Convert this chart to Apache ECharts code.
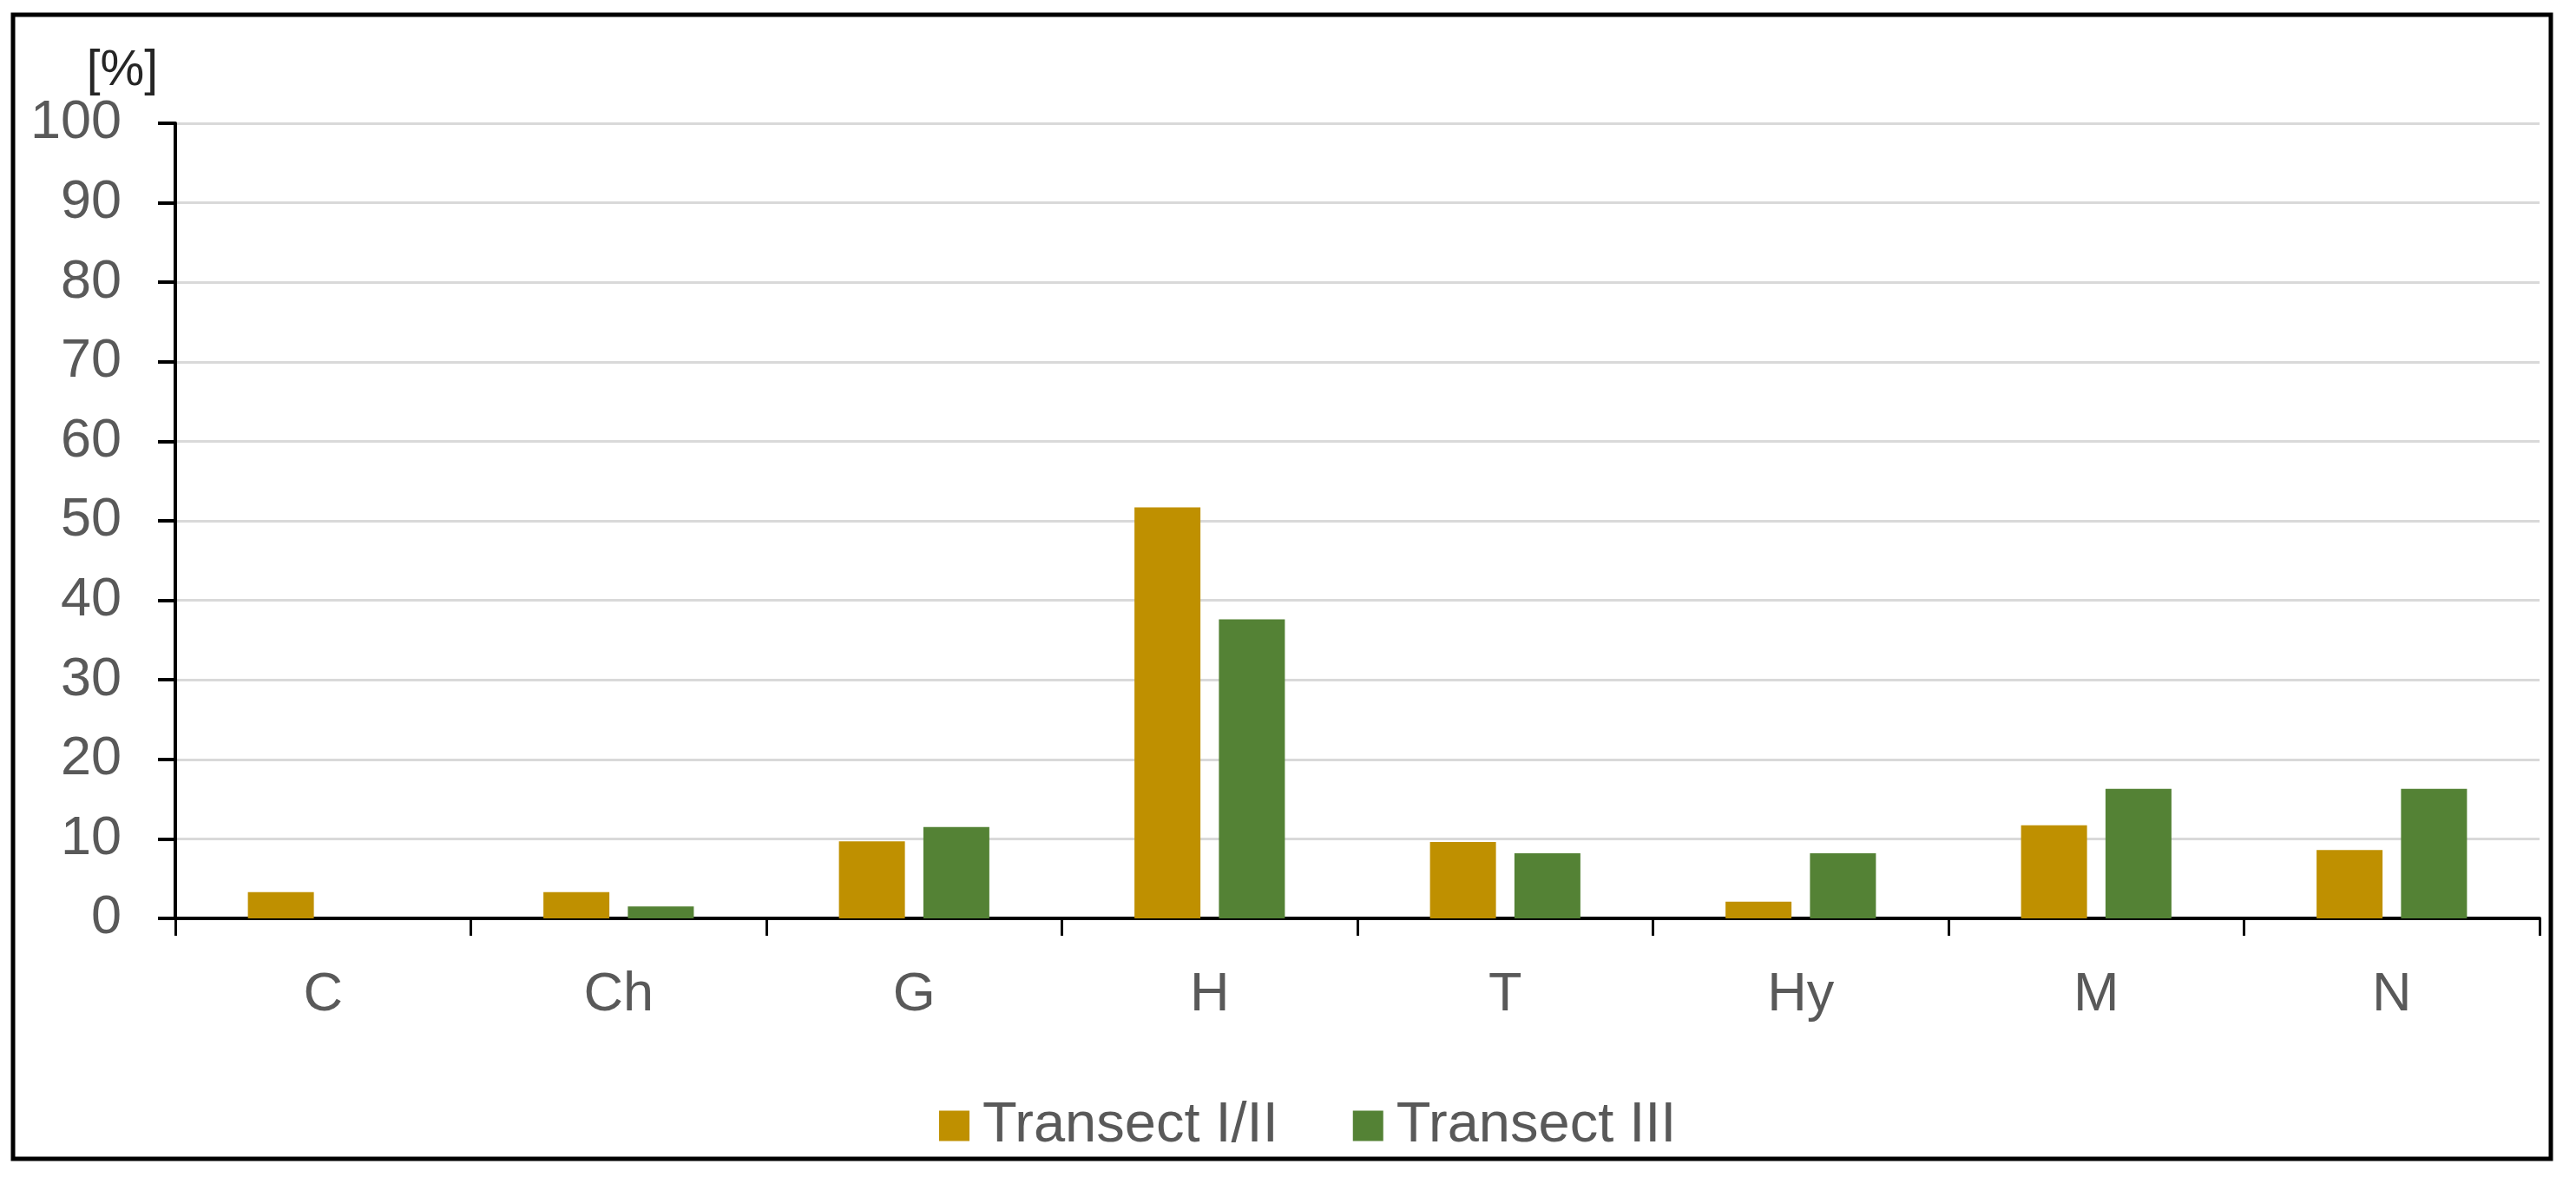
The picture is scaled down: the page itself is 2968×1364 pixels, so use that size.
<!DOCTYPE html>
<html>
<head>
<meta charset="utf-8">
<title>Transect chart</title>
<script src="https://cdn.jsdelivr.net/npm/echarts@6/dist/echarts.min.js"></script>
<style>
  html, body { margin: 0; padding: 0; background: #fff; }
  #chart { width: 2968px; height: 1364px; }
</style>
</head>
<body>
<div id="chart"></div>
<script>
// categories on the x axis
const categories = ['C', 'Ch', 'G', 'H', 'T', 'Hy', 'M', 'N'];
// share in percent
const transectI_II = [3.3, 3.3, 9.7, 51.7, 9.6, 2.1, 11.7, 8.6];
const transectIII = [0, 1.5, 11.5, 37.6, 8.2, 8.2, 16.3, 16.3];
const seriesNames = ['Transect I/II', 'Transect III'];

const chartDom = document.getElementById('chart');
const myChart = echarts.init(chartDom);
const option = {
  animation: false,
  backgroundColor: '#fff',
  textStyle: {
    fontFamily: 'Liberation Sans'
  },
  // outer frame round the whole figure
  graphic: [
    {
      type: 'rect',
      z: -1,
      shape: {x: 15, y: 17, width: 2924, height: 1318},
      style: {fill: 'none', stroke: '#000', lineWidth: 5}
    }
  ],
  grid: {
    left: 202,
    right: 42,
    top: 142,
    bottom: 306,
    containLabel: false
  },
  legend: {
    left: 1077,
    top: 1259,
    itemWidth: 35,
    itemHeight: 35,
    itemGap: 86,
    icon: 'rect',
    textStyle: {
      color: '#595959',
      fontSize: 65,
      lineHeight: 66,
      padding: [0, 0, 0, 10],
      fontFamily: 'Liberation Sans'
    },
    data: seriesNames
  },
  xAxis: {
    type: 'category',
    data: categories,
    axisLine: {
      show: true,
      lineStyle: {color: '#000', width: 4}
    },
    axisTick: {
      show: true,
      interval: 0,
      length: 20,
      lineStyle: {color: '#000', width: 3}
    },
    axisLabel: {
      interval: 0,
      margin: 57,
      color: '#595959',
      fontSize: 63
    },
    splitLine: {show: false}
  },
  yAxis: {
    type: 'value',
    min: 0,
    max: 100,
    interval: 10,
    name: '[%]',
    nameLocation: 'end',
    nameGap: 26,
    nameTextStyle: {
      color: '#262626',
      fontSize: 57,
      align: 'right',
      verticalAlign: 'bottom',
      padding: [0, 20, 0, 0]
    },
    axisLine: {
      show: true,
      lineStyle: {color: '#000', width: 4}
    },
    axisTick: {
      show: true,
      length: 20,
      lineStyle: {color: '#000', width: 4}
    },
    axisLabel: {
      margin: 62,
      color: '#595959',
      fontSize: 63
    },
    splitLine: {
      show: true,
      lineStyle: {color: '#D9D9D9', width: 3}
    }
  },
  series: [
    {
      name: seriesNames[0],
      type: 'bar',
      data: transectI_II,
      barWidth: 76,
      barGap: '28%',
      itemStyle: {color: '#BF9000'}
    },
    {
      name: seriesNames[1],
      type: 'bar',
      data: transectIII,
      barWidth: 76,
      barGap: '28%',
      itemStyle: {color: '#548235'}
    }
  ]
};
myChart.setOption(option);
</script>
</body>
</html>
